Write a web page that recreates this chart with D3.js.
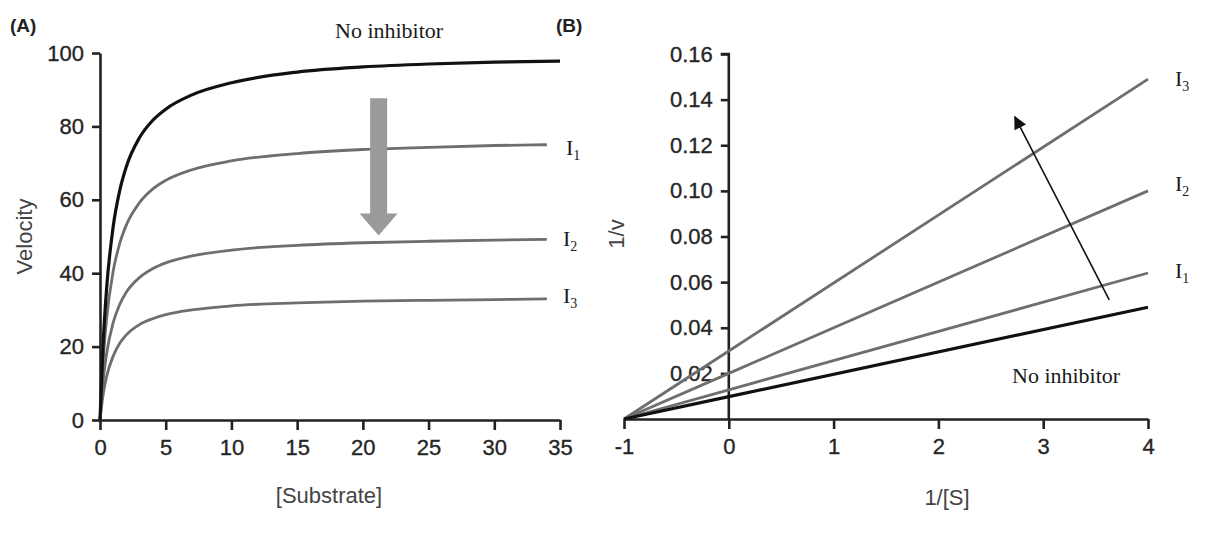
<!DOCTYPE html>
<html>
<head>
<meta charset="utf-8">
<script src="https://cdn.jsdelivr.net/npm/d3@7"></script>
<style>
  html, body { margin: 0; padding: 0; background: #fff; }
  svg { display: block; }
  .tick text { font-family: "Liberation Sans", Arial, sans-serif; font-size: 22px; fill: #262626; stroke: #262626; stroke-width: 0.35px; }
</style>
</head>
<body>
<svg id="chart" width="1211" height="533"></svg>
<script>
// ---------- Data ----------
// Panel A: Michaelis-Menten curves
const substrate  = [0, 0.25, 0.5, 1, 1.5, 2, 3, 4, 5, 7, 10, 15, 20, 25, 30, 35];
const substrateI = [0, 0.25, 0.5, 1, 1.5, 2, 3, 4, 5, 7, 10, 15, 20, 25, 30, 34];
const vNoInhibitor = [0, 21.7, 35.7, 52.6, 62.5, 69, 76.9, 81.6, 84.7, 88.6, 91.9, 94.8, 96.2, 97.0, 97.5, 97.8];
const vI1 = [0, 16.7, 27.5, 40.5, 48.1, 53.1, 59.2, 62.9, 65.3, 68.2, 70.6, 72.6, 73.7, 74.3, 74.8, 75.0];
const vI2 = [0, 11.0, 18.0, 26.5, 31.5, 34.8, 38.8, 41.2, 42.8, 44.7, 46.3, 47.6, 48.3, 48.7, 49.0, 49.2];
const vI3 = [0, 7.2, 11.8, 17.4, 20.9, 23.2, 26.0, 27.6, 28.7, 30.0, 31.1, 31.9, 32.4, 32.6, 32.8, 33.0];
const ticksA_x = [0, 5, 10, 15, 20, 25, 30, 35];
const ticksA_y = [0, 20, 40, 60, 80, 100];

// Panel B: Lineweaver-Burk lines
const invS = [-1, 0, 4];
const invVNoInhibitor = [0, 0.0098, 0.049];
const invVI1 = [0, 0.0128, 0.064];
const invVI2 = [0, 0.020, 0.100];
const invVI3 = [0, 0.0298, 0.149];
const ticksB_x = [-1, 0, 1, 2, 3, 4];
const ticksB_y = [0.02, 0.04, 0.06, 0.08, 0.10, 0.12, 0.14, 0.16];

// ---------- Styles ----------
const BLACK = "#111";
const GRAY = "#6e6e6e";
const AXIS = "#222";
const svg = d3.select("#chart");
svg.append("rect").attr("width", 1211).attr("height", 533).attr("fill", "#fff");

svg.append("defs").append("marker")
  .attr("id", "headB").attr("viewBox", "0 0 10 10")
  .attr("refX", 9).attr("refY", 5)
  .attr("markerWidth", 16).attr("markerHeight", 13)
  .attr("markerUnits", "userSpaceOnUse")
  .attr("orient", "auto")
  .append("path").attr("d", "M0,0 L10,5 L0,10 Z").attr("fill", "#111");

function styleAxis(g) {
  g.selectAll(".domain").attr("stroke", AXIS).attr("stroke-width", 2.6);
  g.selectAll(".tick line").attr("stroke", AXIS).attr("stroke-width", 2.6);
}

function serifLabel(x, y, main, sub, size) {
  const t = svg.append("text").attr("x", x).attr("y", y)
    .attr("font-family", "Liberation Serif, Times New Roman, serif")
    .attr("font-size", size || 22).attr("fill", "#1a1a1a");
  t.append("tspan").text(main);
  if (sub) t.append("tspan").attr("font-size", 14).attr("dy", 5).text(sub);
  return t;
}

// ================= Panel A =================
const xA = d3.scaleLinear().domain([0, 35]).range([100, 560]);
const yA = d3.scaleLinear().domain([0, 100]).range([420, 53]);

const gAx = svg.append("g").attr("transform", `translate(0,${yA(0)})`)
  .call(d3.axisBottom(xA).tickValues(ticksA_x).tickSize(10).tickPadding(9).tickSizeOuter(0).tickFormat(d => String(d)));
styleAxis(gAx);
const gAy = svg.append("g").attr("transform", `translate(${xA(0)},0)`)
  .call(d3.axisLeft(yA).tickValues(ticksA_y).tickSize(8).tickPadding(8).tickSizeOuter(0).tickFormat(d => String(d)));
styleAxis(gAy);

const lineA = d3.line().x(d => xA(d[0])).y(d => yA(d[1])).curve(d3.curveMonotoneX);
const seriesA = [
  { s: substrateI, v: vI3, color: GRAY, w: 2.8 },
  { s: substrateI, v: vI2, color: GRAY, w: 2.8 },
  { s: substrateI, v: vI1, color: GRAY, w: 2.8 },
  { s: substrate, v: vNoInhibitor, color: BLACK, w: 3.2 }
];
seriesA.forEach(sr => {
  svg.append("path").datum(sr.s.map((s, i) => [s, sr.v[i]]))
    .attr("d", lineA).attr("fill", "none")
    .attr("stroke", sr.color).attr("stroke-width", sr.w)
    .attr("stroke-linecap", "butt");
});

// Gray downward arrow
(function () {
  const cx = xA(21.2), top = yA(87.7), headTop = yA(56.3), tip = yA(50.3);
  svg.append("path")
    .attr("d", `M${cx - 8.5},${top} L${cx + 8.5},${top} L${cx + 8.5},${headTop} L${cx + 19},${headTop} L${cx},${tip} L${cx - 19},${headTop} L${cx - 8.5},${headTop} Z`)
    .attr("fill", "#9a9a9a");
})();

// Labels Panel A
svg.append("text").attr("x", 10).attr("y", 32)
  .attr("font-family", "Liberation Sans, Arial, sans-serif").attr("font-weight", "bold")
  .attr("font-size", 19).attr("fill", "#222").text("(A)");
serifLabel(335, 38, "No inhibitor", null, 22);
serifLabel(566, 155, "I", "1");
serifLabel(563, 246, "I", "2");
serifLabel(563, 303, "I", "3");

svg.append("text")
  .attr("transform", `translate(32,${(yA(0) + yA(100)) / 2}) rotate(-90)`)
  .attr("text-anchor", "middle")
  .attr("font-family", "Liberation Sans, Arial, sans-serif").attr("font-size", 22).attr("fill", "#444")
  .text("Velocity");
svg.append("text").attr("x", 329).attr("y", 503).attr("text-anchor", "middle")
  .attr("font-family", "Liberation Sans, Arial, sans-serif").attr("font-size", 22).attr("fill", "#444")
  .text("[Substrate]");

// ================= Panel B =================
const xB = d3.scaleLinear().domain([-1, 4]).range([624, 1148]);
const yB = d3.scaleLinear().domain([0, 0.16]).range([419, 54]);

const gBx = svg.append("g").attr("transform", `translate(0,${yB(0)})`)
  .call(d3.axisBottom(xB).tickValues(ticksB_x).tickSize(10).tickPadding(9).tickSizeOuter(0).tickFormat(d => String(d)));
styleAxis(gBx);
const gBy = svg.append("g").attr("transform", `translate(${xB(0)},0)`)
  .call(d3.axisLeft(yB).tickValues(ticksB_y).tickSize(8).tickPadding(8).tickSizeOuter(0).tickFormat(d3.format(".2f")));
styleAxis(gBy);
gBy.select(".domain").attr("d", `M-8,${yB(0.16)}H0V${yB(0)}`);

const lineB = d3.line().x(d => xB(d[0])).y(d => yB(d[1]));
const seriesB = [
  { v: invVI3, color: GRAY, w: 2.8 },
  { v: invVI2, color: GRAY, w: 2.8 },
  { v: invVI1, color: GRAY, w: 2.8 },
  { v: invVNoInhibitor, color: BLACK, w: 3.2 }
];
seriesB.forEach(sr => {
  svg.append("path").datum(invS.map((s, i) => [s, sr.v[i]]))
    .attr("d", lineB).attr("fill", "none")
    .attr("stroke", sr.color).attr("stroke-width", sr.w);
});

// Black arrow
svg.append("line")
  .attr("x1", xB(3.63)).attr("y1", yB(0.0522))
  .attr("x2", xB(2.73)).attr("y2", yB(0.1324))
  .attr("stroke", "#111").attr("stroke-width", 1.6)
  .attr("marker-end", "url(#headB)");

// Labels Panel B
svg.append("text").attr("x", 556).attr("y", 32)
  .attr("font-family", "Liberation Sans, Arial, sans-serif").attr("font-weight", "bold")
  .attr("font-size", 19).attr("fill", "#222").text("(B)");
serifLabel(1175, 86, "I", "3");
serifLabel(1175, 191, "I", "2");
serifLabel(1175, 278, "I", "1");
serifLabel(1012, 383, "No inhibitor", null, 22);

svg.append("text")
  .attr("transform", `translate(624,234) rotate(-90)`)
  .attr("text-anchor", "middle")
  .attr("font-family", "Liberation Sans, Arial, sans-serif").attr("font-size", 22).attr("fill", "#444")
  .text("1/v");
svg.append("text").attr("x", 947).attr("y", 505).attr("text-anchor", "middle")
  .attr("font-family", "Liberation Sans, Arial, sans-serif").attr("font-size", 22).attr("fill", "#444")
  .text("1/[S]");
</script>
</body>
</html>
